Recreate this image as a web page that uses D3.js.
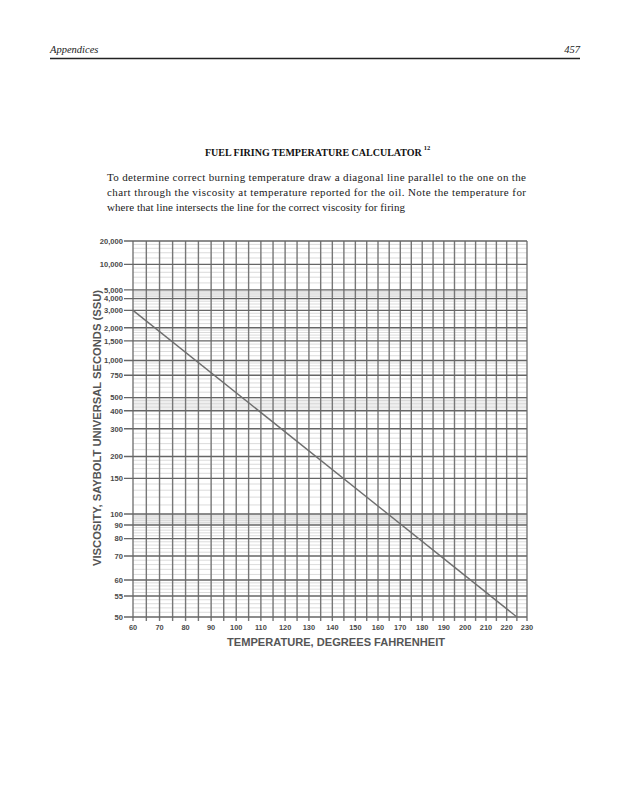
<!DOCTYPE html>
<html>
<head>
<meta charset="utf-8">
<script src="https://cdn.jsdelivr.net/npm/d3@7"></script>
<style>
  html, body { margin: 0; padding: 0; background: #fff; }
  svg { display: block; }
</style>
</head>
<body>
<svg id="chart" width="617" height="800"></svg>
<script>
// ---------------- data ----------------
const yTickValues = [20000, 10000, 5000, 4000, 3000, 2000, 1500, 1000, 750, 500, 400, 300, 200, 150, 100, 90, 80, 70, 60, 55, 50];
const yTickLabels = ["20,000", "10,000", "5,000", "4,000", "3,000", "2,000", "1,500", "1,000", "750", "500", "400", "300", "200", "150", "100", "90", "80", "70", "60", "55", "50"];
const yMinorValues = [12000, 14000, 16000, 18000, 6000, 7000, 8000, 9000, 4250, 4500, 4750, 3250, 3500, 3750,
  2200, 2400, 2600, 2800, 1600, 1700, 1800, 1900, 1100, 1200, 1300, 1400, 800, 850, 900, 950,
  550, 600, 650, 700, 425, 450, 475, 325, 350, 375, 220, 240, 260, 280, 160, 170, 180, 190,
  110, 120, 130, 140, 92, 94, 96, 98, 82, 84, 86, 88, 72, 74, 76, 78, 62, 64, 66, 68, 56, 57, 58, 59, 51, 52, 53, 54];
const shadedBands = [[4000, 5000], [400, 500], [90, 100]];
const xTickValues = [60, 70, 80, 90, 100, 110, 120, 130, 140, 150, 160, 170, 180, 190, 200, 210, 220, 230];
const xTickLabels = ["60", "70", "80", "90", "100", "110", "120", "130", "140", "150", "160", "170", "180", "190", "200", "210", "220", "230"];
const xGridValues = d3.range(60, 231, 5);
const lineTemps = [60, 225];
const lineSSU = [3000, 50];

const paragraph = [
  "To determine correct burning temperature draw a diagonal line parallel to the one on the",
  "chart through the viscosity at temperature reported for the oil. Note the temperature for",
  "where that line intersects the line for the correct viscosity for firing"
];

// ---------------- scales (ASTM viscosity-temperature chart) ----------------
const ssuToCst = s => s < 100 ? 0.226 * s - 195 / s : 0.220 * s - 135 / s;
const zOf = s => Math.log10(Math.log10(ssuToCst(s) + 0.7));
const tOf = t => Math.log10(t + 459.67);

const plotL = 133, plotR = 527, plotT = 241, plotB = 617;
const xs = d3.scaleLinear().domain([tOf(60), tOf(230)]).range([plotL, plotR]);
const ys = d3.scaleLinear().domain([zOf(50), zOf(20000)]).range([plotB, plotT]);
const X = t => xs(tOf(t));
const Y = s => ys(zOf(s));

const svg = d3.select("#chart");

// ---------------- page header ----------------
svg.append("text").attr("x", 50).attr("y", 53)
  .attr("font-family", "Liberation Serif, serif").attr("font-style", "italic")
  .attr("font-size", 10.5).attr("fill", "#222").text("Appendices");
svg.append("text").attr("x", 580).attr("y", 53).attr("text-anchor", "end")
  .attr("font-family", "Liberation Serif, serif").attr("font-style", "italic")
  .attr("font-size", 10.5).attr("fill", "#222").text("457");
svg.append("line").attr("x1", 50).attr("x2", 580).attr("y1", 58.5).attr("y2", 58.5)
  .attr("stroke", "#222").attr("stroke-width", 1.3);

// ---------------- title ----------------
const titleText = svg.append("text").attr("x", 205).attr("y", 156)
  .attr("font-family", "Liberation Serif, serif").attr("font-weight", "bold")
  .attr("font-size", 10).attr("fill", "#111")
  .text("FUEL FIRING TEMPERATURE CALCULATOR");
const titleW = titleText.node().getComputedTextLength();
svg.append("text").attr("x", 205 + titleW + 2).attr("y", 150)
  .attr("font-family", "Liberation Serif, serif").attr("font-weight", "bold")
  .attr("font-size", 6.5).attr("fill", "#111").text("12");

// ---------------- paragraph ----------------
svg.selectAll("text.para").data(paragraph).join("text")
  .attr("class", "para")
  .attr("x", 107)
  .attr("y", (d, i) => 181 + i * 15)
  .attr("font-family", "Liberation Serif, serif")
  .attr("font-size", 11)
  .attr("fill", "#1a1a1a")
  .attr("textLength", (d, i) => i < 2 ? 419 : 298)
  .attr("lengthAdjust", "spacing")
  .text(d => d);

// ---------------- chart ----------------
const g = svg.append("g");

// shaded bands
g.selectAll("rect.band").data(shadedBands).join("rect")
  .attr("x", plotL).attr("width", plotR - plotL)
  .attr("y", d => Y(d[1])).attr("height", d => Y(d[0]) - Y(d[1]))
  .attr("fill", "#efefef");

// minor horizontal lines
g.selectAll("line.hminor").data(yMinorValues).join("line")
  .attr("x1", plotL).attr("x2", plotR)
  .attr("y1", d => Y(d)).attr("y2", d => Y(d))
  .attr("stroke", "#d2d2d2").attr("stroke-width", 0.8);

// vertical lines
g.selectAll("line.v").data(xGridValues).join("line")
  .attr("x1", d => X(d)).attr("x2", d => X(d))
  .attr("y1", plotT).attr("y2", plotB + 4)
  .attr("stroke", "#777").attr("stroke-width", 1.4);

// major horizontal lines + ticks
g.selectAll("line.hmajor").data(yTickValues).join("line")
  .attr("x1", plotL - 9).attr("x2", plotR)
  .attr("y1", d => Y(d)).attr("y2", d => Y(d))
  .attr("stroke", "#666").attr("stroke-width", 1.4);

// y tick labels
g.selectAll("text.ylab").data(yTickValues).join("text")
  .attr("x", plotL - 10).attr("y", d => Y(d) + 2.8)
  .attr("text-anchor", "end")
  .attr("font-family", "Liberation Sans, Arial, sans-serif")
  .attr("font-weight", "bold").attr("font-size", 7.6).attr("fill", "#4a4a4a")
  .text((d, i) => yTickLabels[i]);

// x tick labels
g.selectAll("text.xlab").data(xTickValues).join("text")
  .attr("x", d => X(d)).attr("y", 630)
  .attr("text-anchor", "middle")
  .attr("font-family", "Liberation Sans, Arial, sans-serif")
  .attr("font-weight", "bold").attr("font-size", 7.4).attr("fill", "#4a4a4a")
  .text((d, i) => xTickLabels[i]);

// diagonal line
const lineData = lineTemps.map((t, i) => [t, lineSSU[i]]);
g.append("path").datum(lineData)
  .attr("d", d3.line().x(d => X(d[0])).y(d => Y(d[1])))
  .attr("fill", "none").attr("stroke", "#6e6e6e").attr("stroke-width", 1.4);

// axis titles
svg.append("text")
  .attr("transform", "translate(101,428) rotate(-90)")
  .attr("text-anchor", "middle")
  .attr("font-family", "Liberation Sans, Arial, sans-serif")
  .attr("font-weight", "bold").attr("font-size", 11.5).attr("fill", "#555")
  .attr("textLength", 276).attr("lengthAdjust", "spacingAndGlyphs")
  .text("VISCOSITY, SAYBOLT UNIVERSAL SECONDS (SSU)");
svg.append("text")
  .attr("x", 336).attr("y", 646)
  .attr("text-anchor", "middle")
  .attr("font-family", "Liberation Sans, Arial, sans-serif")
  .attr("font-weight", "bold").attr("font-size", 11.5).attr("fill", "#555")
  .attr("textLength", 218).attr("lengthAdjust", "spacingAndGlyphs")
  .text("TEMPERATURE, DEGREES FAHRENHEIT");
</script>
</body>
</html>
